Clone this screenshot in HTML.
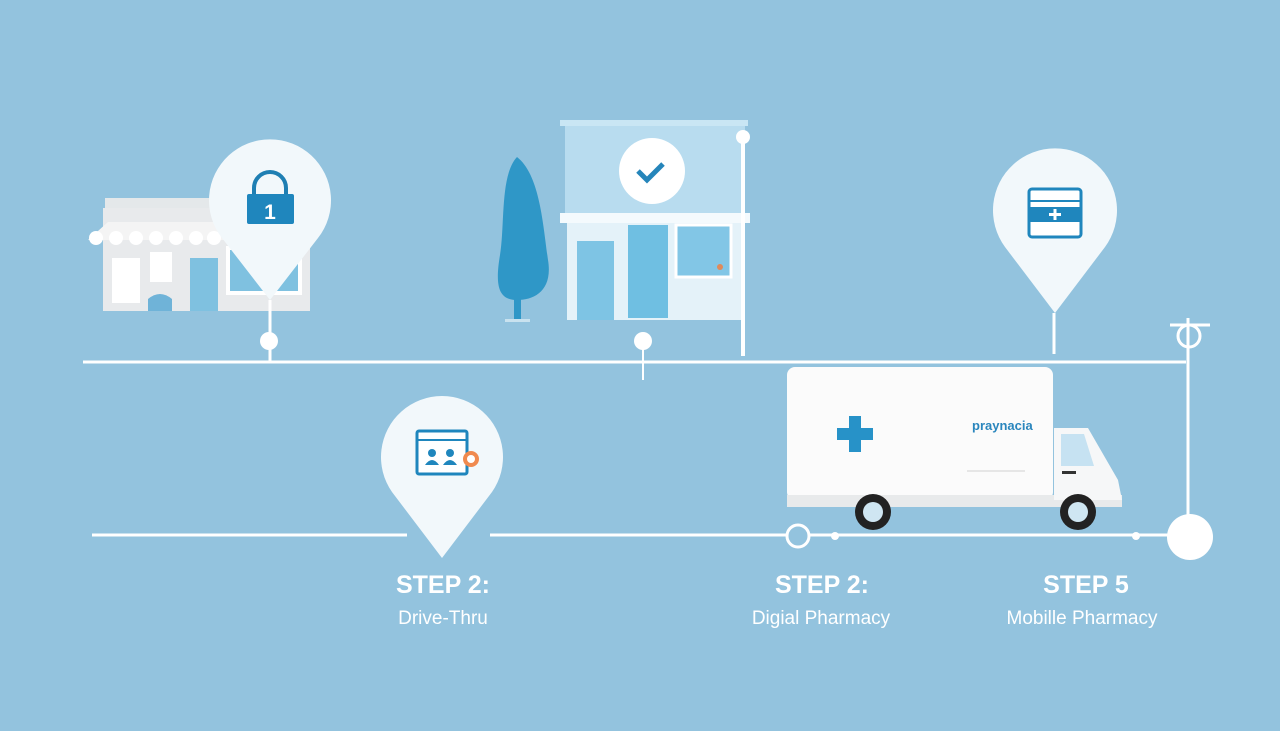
<!DOCTYPE html>
<html><head><style>
body{margin:0;background:#93c3de;}
svg{display:block}
text{font-family:"Liberation Sans",sans-serif}
</style></head><body>
<svg width="1280" height="731" viewBox="0 0 1280 731">
<rect width="1280" height="731" fill="#93c3de"/>
<!-- store left -->
<rect x="105" y="198" width="205" height="12" fill="#e4e8ea"/>
<rect x="103" y="208" width="207" height="103" fill="#e8eaec"/>
<path d="M88 240 L108 222 L220 222 L225 240 Z" fill="#f4f4f4"/>
<g fill="#fff"><circle cx="96" cy="238" r="7"/><circle cx="116" cy="238" r="7"/><circle cx="136" cy="238" r="7"/><circle cx="156" cy="238" r="7"/><circle cx="176" cy="238" r="7"/><circle cx="196" cy="238" r="7"/><circle cx="214" cy="238" r="7"/></g>
<rect x="112" y="258" width="28" height="45" fill="#fff"/>
<rect x="150" y="252" width="22" height="30" fill="#fff"/>
<rect x="190" y="258" width="28" height="53" fill="#7fc1e0"/>
<rect x="228" y="248" width="72" height="45" fill="#7fc1e0" stroke="#fff" stroke-width="4"/>
<path d="M148 311 v-12 q12 -10 24 0 v12z" fill="#6fb3d8"/>
<!-- pin 1 -->
<path d="M270 300 L222 238 A61 61 0 1 1 318 238 Z" fill="#f2f8fb"/>
<line x1="270" y1="300" x2="270" y2="362" stroke="#fff" stroke-width="3"/>
<circle cx="269" cy="341" r="9" fill="#fff"/>
<path d="M254 196 v-8 a16 16 0 0 1 32 0 v8" fill="none" stroke="#1f7fb3" stroke-width="4"/>
<rect x="247" y="194" width="47" height="30" rx="2" fill="#1f86bd"/>
<text x="270" y="219" font-size="21" font-weight="bold" fill="#fff" text-anchor="middle">1</text>
<!-- tree -->
<path d="M517 157 C540 175 543 225 548 260 C553 290 535 300 517 300 C498 300 495 285 500 255 C505 225 500 175 517 157Z" fill="#2f97c7"/>
<rect x="514" y="270" width="7" height="50" fill="#2f97c7"/>
<rect x="505" y="319" width="25" height="3" fill="#c9e2ef"/>
<!-- building -->
<rect x="565" y="122" width="180" height="98" fill="#b8dcef"/>
<rect x="560" y="120" width="188" height="6" fill="#c9e6f4"/>
<rect x="567" y="218" width="175" height="102" fill="#e4f2f9"/>
<rect x="560" y="213" width="190" height="10" fill="#f4fafd"/>
<rect x="577" y="241" width="37" height="79" fill="#7ec4e4"/>
<rect x="628" y="225" width="40" height="93" fill="#6fbfe2"/>
<rect x="676" y="225" width="55" height="52" fill="#82c6e6" stroke="#fff" stroke-width="3"/>
<circle cx="720" cy="267" r="3" fill="#e08a5a"/>
<circle cx="652" cy="171" r="33" fill="#fff"/>
<path d="M638 171 l9 9 l16 -16" fill="none" stroke="#2585ba" stroke-width="5"/>
<line x1="743" y1="135" x2="743" y2="356" stroke="#fff" stroke-width="4"/>
<circle cx="743" cy="137" r="7" fill="#fff"/>
<line x1="643" y1="341" x2="643" y2="380" stroke="#fff" stroke-width="2"/>
<circle cx="643" cy="341" r="9" fill="#fff"/>
<!-- top line -->
<line x1="83" y1="362" x2="1186" y2="362" stroke="#fff" stroke-width="3"/>
<!-- pin right -->
<path d="M1055 313 L1005 247 A62 62 0 1 1 1105 247 Z" fill="#f2f8fb"/>
<line x1="1054" y1="313" x2="1054" y2="354" stroke="#fff" stroke-width="3"/>
<rect x="1029" y="189" width="52" height="48" rx="3" fill="#fff" stroke="#1f86bd" stroke-width="3"/>
<rect x="1030" y="207" width="50" height="15" fill="#1f86bd"/>
<line x1="1030" y1="201" x2="1080" y2="201" stroke="#1f86bd" stroke-width="2"/>
<path d="M1055 209 v11 M1049 214.5 h12" stroke="#fff" stroke-width="3"/>
<!-- right vertical -->
<line x1="1188" y1="318" x2="1188" y2="520" stroke="#fff" stroke-width="3"/>
<line x1="1170" y1="325" x2="1210" y2="325" stroke="#fff" stroke-width="3"/>
<circle cx="1189" cy="336" r="11" fill="none" stroke="#fff" stroke-width="3"/>
<!-- bottom line -->
<line x1="92" y1="535" x2="407" y2="535" stroke="#fff" stroke-width="3"/>
<line x1="490" y1="535" x2="1190" y2="535" stroke="#fff" stroke-width="3"/>
<circle cx="798" cy="536" r="11" fill="#93c3de" stroke="#fff" stroke-width="3"/>
<circle cx="835" cy="536" r="4" fill="#fff"/>
<circle cx="1136" cy="536" r="4" fill="#fff"/>
<circle cx="1190" cy="537" r="23" fill="#fff"/>
<!-- pin drive thru -->
<path d="M442 558 L392 492 A61 61 0 1 1 492 492 Z" fill="#f2f8fb"/>
<rect x="417" y="431" width="50" height="43" rx="2" fill="#fff" stroke="#1f86bd" stroke-width="3"/>
<line x1="417" y1="440" x2="467" y2="440" stroke="#1f86bd" stroke-width="2"/>
<circle cx="432" cy="453" r="4" fill="#1f86bd"/><path d="M425 465 q7 -10 14 0z" fill="#1f86bd"/>
<circle cx="450" cy="453" r="4" fill="#1f86bd"/><path d="M443 465 q7 -10 14 0z" fill="#1f86bd"/>
<circle cx="471" cy="459" r="8" fill="#f08a4f"/><circle cx="471" cy="459" r="4" fill="#fff"/>
<!-- truck -->
<rect x="787" y="367" width="266" height="133" rx="8" fill="#fbfbfb"/>
<rect x="787" y="495" width="335" height="12" fill="#e8eaeb"/>
<path d="M1054 428 L1088 428 L1118 480 L1122 500 L1054 500Z" fill="#f6f7f8"/>
<path d="M1061 434 L1084 434 L1094 466 L1061 466Z" fill="#c6e2f2"/>
<rect x="1062" y="471" width="14" height="3" fill="#333"/>
<path d="M849 415 h12 v-12 h12 v12 h12 v12 h-12 v12 h-12 v-12 h-12z" fill="#2792c8" transform="translate(-12,13)"/>
<text x="972" y="430" font-size="13" font-weight="bold" fill="#2a86bd">praynacia</text>
<line x1="967" y1="471" x2="1025" y2="471" stroke="#e0e0e0" stroke-width="1.5"/>
<circle cx="873" cy="512" r="18" fill="#222"/><circle cx="873" cy="512" r="10" fill="#cfe6f2"/>
<circle cx="1078" cy="512" r="18" fill="#222"/><circle cx="1078" cy="512" r="10" fill="#cfe6f2"/>
<!-- labels -->
<g fill="#fff" text-anchor="middle">
<text x="443" y="593" font-size="25" font-weight="bold">STEP 2:</text>
<text x="443" y="624" font-size="19">Drive-Thru</text>
<text x="822" y="593" font-size="25" font-weight="bold">STEP 2:</text>
<text x="821" y="624" font-size="19">Digial Pharmacy</text>
<text x="1086" y="593" font-size="25" font-weight="bold">STEP 5</text>
<text x="1082" y="624" font-size="19">Mobille Pharmacy</text>
</g>
</svg>
</body></html>
